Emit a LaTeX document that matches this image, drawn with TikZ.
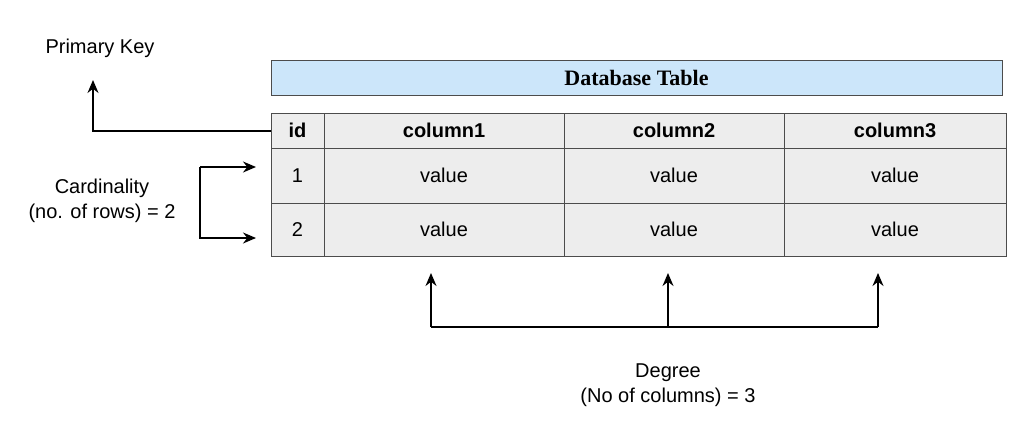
\documentclass[tikz,border=0pt]{standalone}
\usepackage{fontspec}
\usetikzlibrary{arrows.meta}
\setmainfont{Liberation Sans}
\newfontfamily\serifb{Liberation Serif}
\definecolor{titlefill}{HTML}{CCE6FA}
\begin{document}
\begin{tikzpicture}[x=1pt,y=-1pt,
  cell/.style={draw=black!70,fill=black!7,line width=1pt},
  txt/.style={font=\fontsize{20}{25}\selectfont,align=center},
  hd/.style={font=\bfseries\fontsize{20}{25}\selectfont},
  arr/.style={-{Stealth[length=13pt,width=11pt]},line width=1.3pt},
  ln/.style={line width=1.3pt}]
\useasboundingbox (0,0) rectangle (1024,437);
\node[draw=black!70,fill=titlefill,line width=1pt,minimum width=731pt,minimum height=35pt,inner sep=0,font=\serifb\bfseries\fontsize{22}{26}\selectfont] (title) at (636.5,77.5) {Database Table};
\foreach \n/\xa/\xb in {a/271/324,b/324/564,c/564/784,d/784/1006}{
  \draw[cell] (\xa,113) rectangle (\xb,148);
  \draw[cell] (\xa,148) rectangle (\xb,203);
  \draw[cell] (\xa,203) rectangle (\xb,256);
  \coordinate (\n h) at ({(\xa+\xb)/2},130.5);
  \coordinate (\n 1) at ({(\xa+\xb)/2},175.5);
  \coordinate (\n 2) at ({(\xa+\xb)/2},229.5);
}
\node[hd] (hid) at (ah) {id};
\node[hd] (h1) at (bh) {column1};
\node[hd] (h2) at (ch) {column2};
\node[hd] (h3) at (dh) {column3};
\node[txt] (r1) at (a1) {1};
\node[txt] (r2) at (a2) {2};
\foreach \n in {b,c,d}{
  \node[txt] (v\n1) at (\n1) {value};
  \node[txt] (v\n2) at (\n2) {value};
}
\node[txt] (pk) at (100,48) {Primary Key};
\node[txt] (card) at (102,201) {Cardinality\\(no. of rows) = 2};
\node[txt] (deg) at (668,385) {Degree\\(No of columns) = 3};
\coordinate (pkstart) at (271,131);
\coordinate (pkend) at (93,80);
\draw[arr] (pkstart) -| (pkend);
\coordinate (ca) at (200,167);
\coordinate (cb) at (200,238);
\coordinate (ta) at (256,167);
\coordinate (tb) at (256,238);
\draw[arr] (ca) -- (ta);
\draw[arr] (ca) -- (cb) -- (tb);
\coordinate (d1) at (431,327);
\coordinate (d2) at (668,327);
\coordinate (d3) at (878,327);
\draw[ln] (d1) -- (d3);
\draw[arr] (d1) -- (431,273);
\draw[arr] (d2) -- (668,273);
\draw[arr] (d3) -- (878,273);
\end{tikzpicture}
\end{document}
